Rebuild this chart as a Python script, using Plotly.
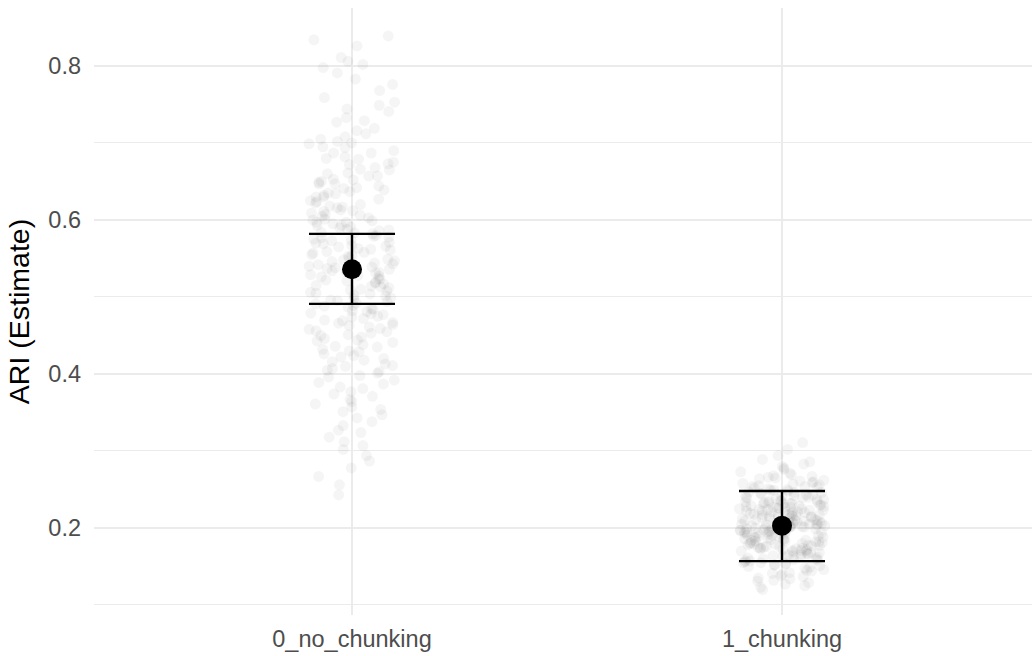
import math
import plotly.graph_objects as go

categories = ["0_no_chunking", "1_chunking"]
estimate = [0.536, 0.203]
ci_lower = [0.491, 0.157]
ci_upper = [0.582, 0.248]

draws_no_chunking = [
    0.839, 0.834, 0.826, 0.811, 0.806, 0.802,
    0.798, 0.791, 0.783, 0.776, 0.768, 0.759, 0.753,
    0.749, 0.744, 0.741, 0.733, 0.729, 0.727, 0.719, 0.716, 0.712, 0.708, 0.705, 0.702, 0.700,
    0.699, 0.695, 0.694, 0.690, 0.687, 0.687, 0.682, 0.680, 0.679, 0.675, 0.673, 0.672, 0.668,
    0.666, 0.665, 0.661, 0.660, 0.657, 0.657, 0.653, 0.652, 0.650,
    0.649, 0.647, 0.647, 0.644, 0.642, 0.641, 0.639, 0.637, 0.635, 0.634, 0.632, 0.630, 0.630,
    0.627, 0.625, 0.624, 0.622, 0.620, 0.618, 0.617, 0.616, 0.613, 0.612, 0.611, 0.609, 0.607,
    0.606, 0.605, 0.603, 0.601, 0.600,
    0.599, 0.597, 0.597, 0.595, 0.593, 0.593, 0.591, 0.590, 0.588, 0.587, 0.586, 0.584, 0.583,
    0.582, 0.580, 0.579, 0.578, 0.577, 0.575, 0.574, 0.573, 0.571, 0.570, 0.569, 0.567, 0.566,
    0.565, 0.563, 0.562, 0.561, 0.559, 0.558, 0.557, 0.555, 0.554, 0.553, 0.551,
    0.549, 0.548, 0.547, 0.546, 0.544, 0.543, 0.542, 0.540, 0.539, 0.538, 0.537, 0.536, 0.534,
    0.533, 0.532, 0.531, 0.529, 0.528, 0.527, 0.526, 0.524, 0.523, 0.522, 0.521, 0.519, 0.518,
    0.517, 0.515, 0.514, 0.513, 0.512, 0.510, 0.509, 0.508, 0.506, 0.505, 0.504, 0.502, 0.501,
    0.499, 0.498, 0.496, 0.495, 0.494, 0.492, 0.491, 0.489, 0.488, 0.487, 0.485, 0.484, 0.482,
    0.481, 0.479, 0.478, 0.477, 0.475, 0.474, 0.472, 0.470, 0.469, 0.467, 0.466, 0.464, 0.463,
    0.461, 0.459, 0.458, 0.456, 0.455, 0.453, 0.451, 0.450,
    0.448, 0.446, 0.444, 0.443, 0.441, 0.438, 0.436, 0.435, 0.432, 0.430, 0.429, 0.426, 0.424,
    0.422, 0.420, 0.418, 0.416, 0.413, 0.411, 0.410, 0.407, 0.405, 0.403, 0.401,
    0.398, 0.396, 0.392, 0.389, 0.387, 0.383, 0.381, 0.377, 0.374, 0.371, 0.367, 0.364, 0.361,
    0.357, 0.354, 0.351,
    0.347, 0.343, 0.338, 0.333, 0.327, 0.324, 0.318, 0.312, 0.307, 0.302,
    0.294, 0.287, 0.278, 0.267, 0.256, 0.243,
]

draws_chunking = [
    0.311, 0.302, 0.294,
    0.289, 0.286, 0.283, 0.280, 0.278, 0.276, 0.273, 0.271,
    0.269, 0.268, 0.267, 0.266, 0.265, 0.264, 0.262, 0.261, 0.260, 0.259, 0.258, 0.257, 0.256,
    0.255, 0.254, 0.254, 0.253, 0.252, 0.251, 0.250,
    0.249, 0.249, 0.248, 0.247, 0.246, 0.246, 0.245, 0.244, 0.243, 0.243, 0.242, 0.241, 0.241,
    0.240, 0.239, 0.239, 0.238, 0.237, 0.237, 0.236, 0.235, 0.235, 0.234, 0.234, 0.233, 0.233,
    0.232, 0.232, 0.231, 0.231, 0.230, 0.230,
    0.229, 0.229, 0.228, 0.228, 0.227, 0.227, 0.227, 0.226, 0.226, 0.225, 0.225, 0.224, 0.224,
    0.223, 0.223, 0.222, 0.222, 0.222, 0.221, 0.221, 0.220, 0.220, 0.219, 0.219, 0.218, 0.218,
    0.218, 0.217, 0.217, 0.216, 0.216, 0.215, 0.215, 0.214, 0.214, 0.213, 0.213, 0.212, 0.212,
    0.211, 0.211, 0.210,
    0.210, 0.209, 0.209, 0.208, 0.208, 0.208, 0.207, 0.207, 0.206, 0.206, 0.205, 0.205, 0.205,
    0.204, 0.204, 0.203, 0.203, 0.202, 0.202, 0.202, 0.201, 0.201, 0.200, 0.200, 0.199, 0.199,
    0.199, 0.198, 0.198, 0.197, 0.197, 0.196, 0.196, 0.196, 0.195, 0.195, 0.194, 0.194, 0.193,
    0.193, 0.192, 0.192, 0.192, 0.191, 0.191, 0.190,
    0.189, 0.189, 0.188, 0.188, 0.187, 0.187, 0.186, 0.186, 0.185, 0.185, 0.184, 0.184, 0.183,
    0.183, 0.182, 0.182, 0.181, 0.181, 0.180, 0.180, 0.179, 0.179, 0.178, 0.178, 0.177, 0.177,
    0.176, 0.176, 0.175, 0.175, 0.174, 0.174, 0.173, 0.173, 0.172, 0.172, 0.171, 0.171, 0.170,
    0.170,
    0.169, 0.168, 0.168, 0.167, 0.166, 0.166, 0.165, 0.164, 0.164, 0.163, 0.162, 0.162, 0.161,
    0.160, 0.160, 0.159, 0.158, 0.158, 0.157, 0.156, 0.155, 0.155, 0.154, 0.153, 0.152, 0.152,
    0.151, 0.150,
    0.149, 0.148, 0.146, 0.145, 0.144, 0.142, 0.141, 0.140, 0.138, 0.137, 0.135, 0.134, 0.132,
    0.131,
    0.129, 0.127, 0.125, 0.123, 0.120,
]

draws = [draws_no_chunking, draws_chunking]

FONT = "Liberation Sans, Arial, Helvetica, sans-serif"
JITTER = 0.1

fig = go.Figure()

# jittered draws: deterministic hash-based horizontal jitter (position only)
for gi, vals in enumerate(draws):
    xs = []
    for k in range(len(vals)):
        f = (math.sin((k + 1) * 12.9898 + gi * 78.233) * 43758.5453) % 1.0
        xs.append(gi + (f * 2 - 1) * JITTER)
    fig.add_trace(go.Scatter(
        x=xs, y=vals, mode="markers",
        marker=dict(size=11, color="rgba(0,0,0,0.04)", line=dict(width=0)),
        hoverinfo="skip", showlegend=False,
    ))

# estimate with interval
fig.add_trace(go.Scatter(
    x=list(range(len(categories))), y=estimate, mode="markers",
    marker=dict(size=20, color="black"),
    error_y=dict(
        type="data", symmetric=False,
        array=[u - e for u, e in zip(ci_upper, estimate)],
        arrayminus=[e - l for e, l in zip(estimate, ci_lower)],
        color="black", thickness=2.4, width=43,
    ),
    showlegend=False,
))

fig.update_layout(
    width=1032, height=656,
    margin=dict(l=94, r=0, t=8, b=41, autoexpand=False),
    paper_bgcolor="white", plot_bgcolor="white",
    font=dict(family=FONT, size=23.5, color="#4D4D4D"),
    showlegend=False,
)

fig.update_xaxes(
    range=[-0.6, 1.5814],
    tickmode="array", tickvals=list(range(len(categories))), ticktext=categories,
    showgrid=True, gridcolor="#EBEBEB", gridwidth=2,
    zeroline=False, showline=False, ticks="",
    ticklabelstandoff=7, automargin=False,
    tickfont=dict(size=23.5, color="#4D4D4D", family=FONT),
)

fig.update_yaxes(
    range=[0.087, 0.8753],
    tickmode="array", tickvals=[0.2, 0.4, 0.6, 0.8], ticktext=["0.2", "0.4", "0.6", "0.8"],
    showgrid=True, gridcolor="#EBEBEB", gridwidth=2,
    minor=dict(tickmode="array", tickvals=[0.1, 0.3, 0.5, 0.7], showgrid=True,
               gridcolor="#EBEBEB", gridwidth=1, ticks=""),
    zeroline=False, showline=False, ticks="",
    ticklabelstandoff=12, automargin=False,
    tickfont=dict(size=23.5, color="#4D4D4D", family=FONT),
    title=dict(text="ARI (Estimate)", font=dict(size=28.5, color="black", family=FONT), standoff=10),
)

fig.write_html("out.html")
